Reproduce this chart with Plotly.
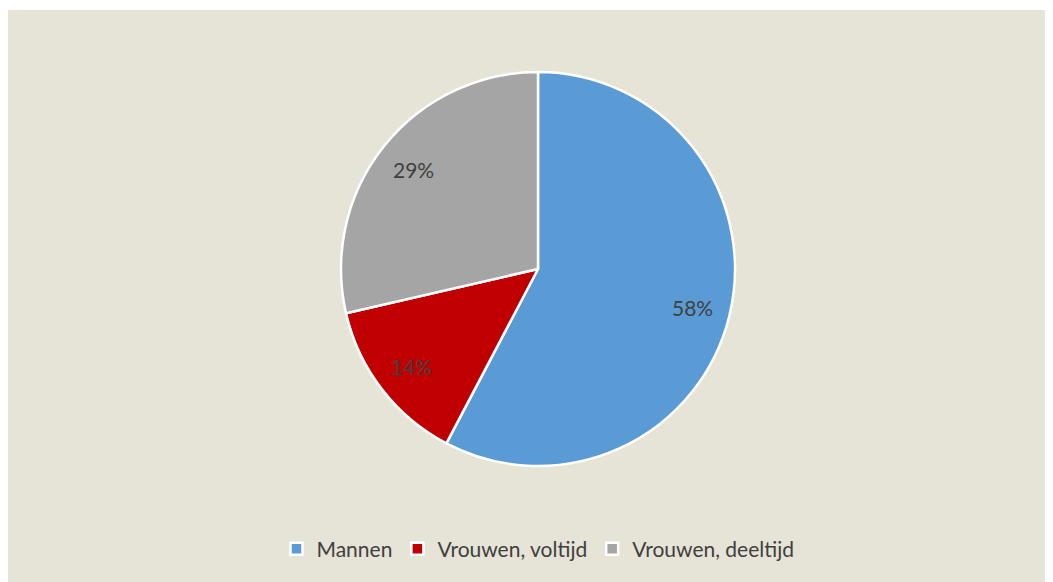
import math
import plotly.graph_objects as go

categories = ["Mannen", "Vrouwen, voltijd", "Vrouwen, deeltijd"]
values = [57.7, 13.7, 28.6]
colors = ["#5B9BD5", "#C00000", "#A5A5A5"]

W, H = 1053, 582
L, R, T, B = 22, 15, 64, 124
pw, ph = W - L - R, H - T - B
BG = "#E6E3D7"
FONT = "Lato, Open Sans, sans-serif"

fig = go.Figure(go.Pie(
    labels=categories,
    values=values,
    sort=False,
    direction="clockwise",
    rotation=0,
    marker=dict(colors=colors, line=dict(color="white", width=2.5)),
    textinfo="none",
    hoverinfo="label+percent",
))

# percentage labels placed at ~0.81 of the radius, like the original
total = sum(values)
cx, cy = L + pw / 2, T + ph / 2
rad = min(pw, ph) / 2
annotations = []
cum = 0.0
for v in values:
    mid = (cum + v / 2) / total * 2 * math.pi
    cum += v
    px = cx + 0.81 * rad * math.sin(mid)
    py = cy - 0.81 * rad * math.cos(mid)
    annotations.append(dict(
        x=(px - L) / pw, y=1 - (py - T) / ph, xref="paper", yref="paper",
        text=f"{round(v / total * 100)}%", showarrow=False,
        font=dict(family=FONT, size=21, color="#404040"),
        xanchor="center", yanchor="middle",
    ))

fig.update_layout(
    width=W, height=H,
    margin=dict(l=L, r=R, t=T, b=B),
    paper_bgcolor=BG,
    font=dict(family=FONT, size=21, color="#404040"),
    legend=dict(
        orientation="h", x=0.5, xanchor="center",
        yref="container", y=1 - 541 / H, yanchor="middle",
        font=dict(size=21, color="#404040"),
        bgcolor="rgba(0,0,0,0)",
    ),
    annotations=annotations,
    shapes=[dict(
        type="rect", xref="paper", yref="paper", layer="below",
        x0=-L / pw - 0.01, x1=(W - L) / pw + 0.01,
        y0=1 + (T - 2) / ph, y1=1 + (T + 1) / ph,
        fillcolor="white", line=dict(width=0),
    )],
)

fig.write_html("out.html")
